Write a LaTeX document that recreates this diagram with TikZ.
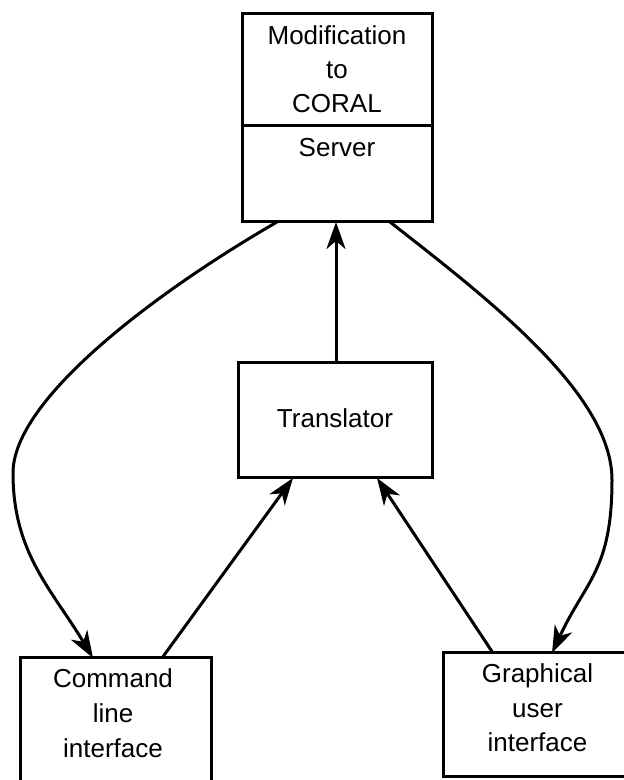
\documentclass[tikz,border=0pt]{standalone}
\usepackage{fontspec}
\setmainfont{Liberation Sans}
\usetikzlibrary{arrows.meta}
\begin{document}
\begin{tikzpicture}[x=1pt,y=1pt,
  line width=3pt,
  boxshape/.style={draw, rectangle, inner sep=0pt},
  lbl/.style={anchor=base, inner sep=0pt, font=\fontsize{26}{34}\selectfont},
  flow/.style={-{Stealth[length=27pt,width=19pt,inset=8pt]}, line join=miter}
]
\useasboundingbox (0,0) rectangle (624,780);
\clip (0,0) rectangle (624,780);

% boxes
\node[boxshape, minimum width=190, minimum height=208] (server) at (337,662) {};
\draw (server.west |- 0,654) -- (server.east |- 0,654);
\node[boxshape, minimum width=194, minimum height=115] (trans) at (335,359.5) {};
\node[boxshape, minimum width=191, minimum height=124] (cli) at (115.5,60) {};
\node[boxshape, minimum width=189, minimum height=124] (gui) at (537.5,65) {};

% labels
\node[lbl] (t1) at (337,735) {Modification};
\node[lbl] (t2) at (337,701) {to};
\node[lbl] (t3) at (337,667) {CORAL};
\node[lbl] (t4) at (337,623) {Server};
\node[lbl] (t5) at (335,352) {Translator};
\node[lbl] (c1) at (113,92) {Command};
\node[lbl] (c2) at (113,57) {line};
\node[lbl] (c3) at (113,22) {interface};
\node[lbl] (g1) at (537.5,97) {Graphical};
\node[lbl] (g2) at (537.5,62) {user};
\node[lbl] (g3) at (537.5,28) {interface};

% anchor points on the box edges
\coordinate (sL) at (277,558);
\coordinate (sR) at (390,558);
\coordinate (sM) at (336,558);
\coordinate (tT) at (336,417);
\coordinate (tL) at (293,302);
\coordinate (tR) at (377,302);
\coordinate (cT) at (93,122);
\coordinate (cS) at (162,122);
\coordinate (gT) at (552,127);
\coordinate (gS) at (493,127);
\coordinate (wL) at (13,307);
\coordinate (wR) at (612,300);

% connectors
\draw[flow] (tT) -- (sM);
\draw[flow] (sL) .. controls +(210:135) and +(0,75) .. (wL)
                 .. controls +(0,-80) and +(121:80) .. (cT);
\draw[flow] (sR) .. controls +(-38:130) and +(0,85) .. (wR)
                 .. controls +(0,-90) and +(65:80) .. (gT);
\draw[flow] (cS) -- (tL);
\draw[flow] (gS) -- (tR);
\end{tikzpicture}
\end{document}
